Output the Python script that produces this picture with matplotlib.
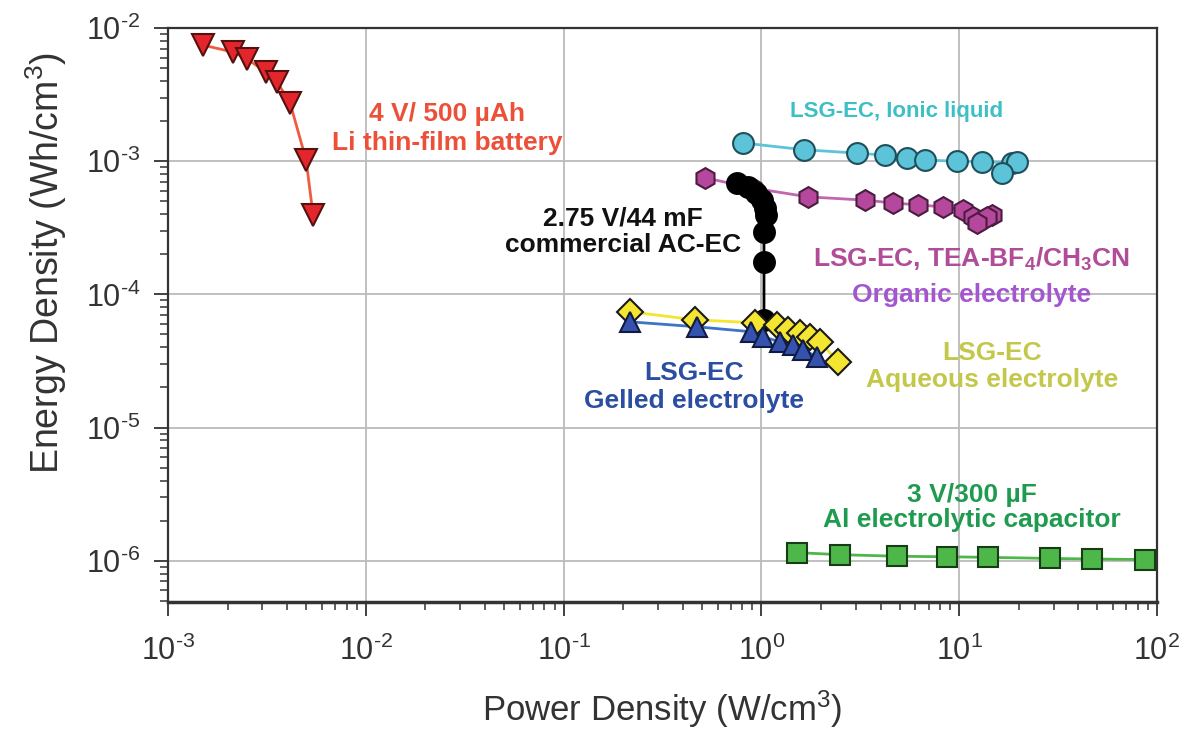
import numpy as np
import matplotlib
matplotlib.use("Agg")
import matplotlib.pyplot as plt
from matplotlib.ticker import LogLocator, NullFormatter, FuncFormatter

plt.rcParams['font.family'] = ['Liberation Sans', 'DejaVu Sans']
plt.rcParams['mathtext.fontset'] = 'custom'
plt.rcParams['mathtext.rm'] = 'Liberation Sans'
plt.rcParams['mathtext.bf'] = 'Liberation Sans:bold'
plt.rcParams['mathtext.default'] = 'regular'

# Li thin-film battery
li_p = [1.50e-3, 2.13e-3, 2.51e-3, 3.13e-3, 3.56e-3, 4.14e-3, 4.99e-3, 5.41e-3]
li_e = [7.45e-3, 6.6e-3, 5.85e-3, 4.68e-3, 3.93e-3, 2.74e-3, 1.02e-3, 3.95e-4]

# LSG-EC ionic liquid
il_p = [0.807, 1.64, 3.04, 4.21, 5.45, 6.72, 9.75, 13.0, 18.5, 19.6, 16.4]
il_e = [1.37e-3, 1.22e-3, 1.15e-3, 1.11e-3, 1.06e-3, 1.02e-3, 1.0e-3, 0.99e-3, 9.7e-4, 9.9e-4, 8.2e-4]

# LSG-EC organic
org_p = [0.519, 0.895, 1.72, 3.34, 4.63, 6.19, 8.28, 10.4, 11.7, 14.7, 13.8, 12.3]
org_e = [7.5e-4, 6.3e-4, 5.4e-4, 5.1e-4, 4.86e-4, 4.7e-4, 4.54e-4, 4.3e-4, 3.8e-4, 3.95e-4, 3.8e-4, 3.44e-4]

# commercial AC-EC
ac_p = [0.753, 0.856, 0.94, 1.007, 1.04, 1.055, 1.03, 1.03, 1.03]
ac_e = [6.87e-4, 6.41e-4, 5.78e-4, 5.13e-4, 4.47e-4, 3.95e-4, 2.95e-4, 1.76e-4, 6.46e-5]

# LSG-EC aqueous
aq_p = [0.217, 0.462, 0.929, 1.20, 1.36, 1.57, 1.76, 1.98, 2.44]
aq_e = [7.4e-5, 6.44e-5, 6.12e-5, 5.91e-5, 5.42e-5, 5.15e-5, 4.8e-5, 4.4e-5, 3.12e-5]

# LSG-EC gelled
gel_p = [0.217, 0.471, 0.889, 1.02, 1.24, 1.45, 1.62, 1.91]
gel_e = [6.22e-5, 5.71e-5, 5.24e-5, 4.8e-5, 4.4e-5, 4.18e-5, 3.84e-5, 3.4e-5]

# Al electrolytic capacitor
al_p = [1.51, 2.50, 4.85, 8.67, 14.0, 28.8, 46.9, 86.9]
al_e = [1.15e-6, 1.11e-6, 1.08e-6, 1.07e-6, 1.06e-6, 1.04e-6, 1.03e-6, 1.02e-6]

fig = plt.figure(figsize=(11.85, 7.38), dpi=100)
ax = fig.add_axes([0.1418, 0.1843, 0.8346, 0.7777])
ax.set_xscale('log')
ax.set_yscale('log')
ax.set_xlim(1e-3, 1e2)
ax.set_ylim(10**-6.31, 1e-2)

ax.grid(True, which='major', color='#bbbbbb', lw=1.3, zorder=0)
ax.set_axisbelow(True)

def series(p, e, marker, fc, lc, ms, ec='#222222'):
    ax.plot(p, e, '-', color=lc, lw=2, zorder=2)
    ax.plot(p, e, linestyle='none', marker=marker, ms=ms, mfc=fc, mec=ec, mew=1.5, zorder=3)

series(li_p, li_e, 'v', '#e3262b', '#ef5a40', 16, ec='#551010')
series(il_p, il_e, 'o', '#5cc3d8', '#5cc3d8', 15, ec='#1e4f5a')
series(org_p, org_e, 'h', '#b5489c', '#c167ad', 15, ec='#4a1c3f')
series(ac_p, ac_e, 'o', '#000000', '#000000', 15, ec='#000000')
series(aq_p, aq_e, 'D', '#f4e531', '#f4e531', 13, ec='#1a1a1a')
series(gel_p, gel_e, '^', '#3553ae', '#3d74c4', 15, ec='#111a40')
series(al_p, al_e, 's', '#4eb74a', '#4eb74a', 14, ec='#163d16')

fs = 19
ax.text(0.0258, 1.76e-3, '4 V/ 500 \u00b5Ah\nLi thin-film battery', color='#ec5038',
        fontsize=fs, fontweight='bold', ha='center', va='center', linespacing=1.25)
ax.text(1.40, 2.38e-3, 'LSG-EC, Ionic liquid', color='#3dbfc6',
        fontsize=16, fontweight='bold', ha='left', va='center')
ax.text(0.1995, 2.95e-4, '2.75 V/44 mF\ncommercial AC-EC', color='#111111',
        fontsize=fs, fontweight='bold', ha='center', va='center', linespacing=1.15)
ax.text(11.6, 1.82e-4, r'LSG-EC, TEA-BF$_\mathbf{4}$/CH$_\mathbf{3}$CN', color='#b04c98',
        fontsize=fs, fontweight='bold', ha='center', va='center')
ax.text(11.5, 9.93e-5, 'Organic electrolyte', color='#a456d0',
        fontsize=fs, fontweight='bold', ha='center', va='center')
ax.text(14.7, 2.86e-5, 'LSG-EC\nAqueous electrolyte', color='#c3c84a',
        fontsize=fs, fontweight='bold', ha='center', va='center', linespacing=1.15)
ax.text(0.456, 2.01e-5, 'LSG-EC\nGelled electrolyte', color='#2b4ea2',
        fontsize=fs, fontweight='bold', ha='center', va='center', linespacing=1.18)
ax.text(11.6, 2.51e-6, '3 V/300 \u00b5F\nAl electrolytic capacitor', color='#1f9b50',
        fontsize=fs, fontweight='bold', ha='center', va='center', linespacing=1.1)

ax.set_xlabel('Power Density (W/cm$^3$)', fontsize=25, color='#333333', labelpad=16)
ax.set_ylabel('Energy Density (Wh/cm$^3$)', fontsize=27, color='#333333')
ax.yaxis.set_label_coords(-0.1, 0.59)

def exp_label(v, pos):
    n = int(round(np.log10(v)))
    return r'$10^{\text{%d}}$' % n

ax.xaxis.set_major_locator(LogLocator(base=10, numticks=10))
ax.xaxis.set_minor_locator(LogLocator(base=10, subs=np.arange(2, 10), numticks=10))
ax.yaxis.set_major_locator(LogLocator(base=10, numticks=10))
ax.yaxis.set_minor_locator(LogLocator(base=10, subs=np.arange(2, 10), numticks=10))
ax.xaxis.set_major_formatter(FuncFormatter(exp_label))
ax.yaxis.set_major_formatter(FuncFormatter(exp_label))
ax.xaxis.set_minor_formatter(NullFormatter())
ax.yaxis.set_minor_formatter(NullFormatter())
ax.tick_params(which='major', direction='out', length=10, width=1.3, labelsize=22,
               colors='#333333', pad=14)
ax.tick_params(which='minor', direction='out', length=6, width=1.1, colors='#333333')
ax.tick_params(axis='y', pad=10)
for s in ax.spines.values():
    s.set_color('#333333')
    s.set_linewidth(1.6)
ax.spines['bottom'].set_linewidth(2.5)

fig.savefig('out.png', dpi=100)
